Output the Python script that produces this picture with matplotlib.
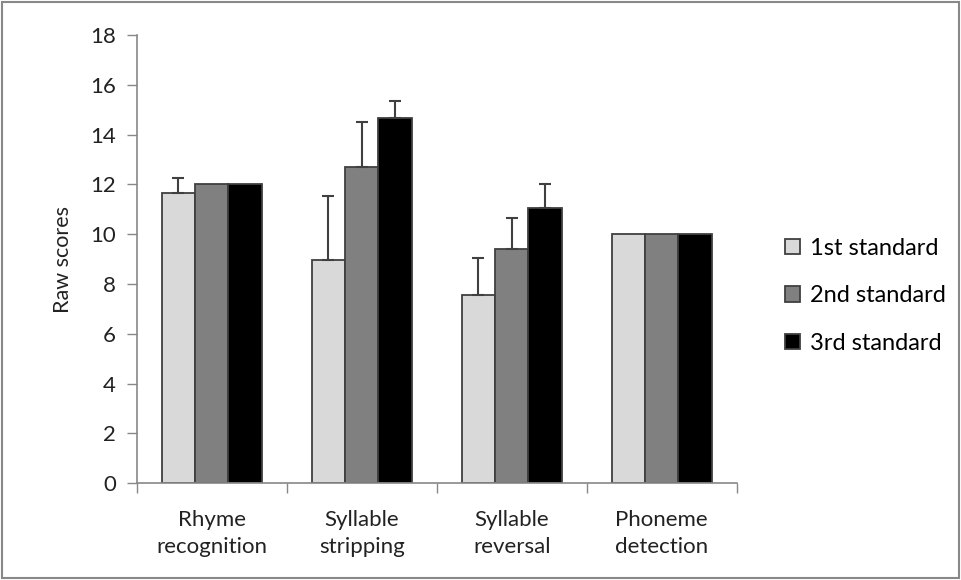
import numpy as np
import matplotlib
matplotlib.use("Agg")
import matplotlib.pyplot as plt
from matplotlib.patches import Rectangle

plt.rcParams['font.family'] = ['Lato', 'DejaVu Sans']

# datos
categorias = ["Rhyme\nrecognition", "Syllable\nstripping", "Syllable\nreversal", "Phoneme\ndetection"]
grupos = ["1st standard", "2nd standard", "3rd standard"]
std1 = [11.67, 8.96, 7.56, 10.0]
std2 = [12.0, 12.70, 9.41, 10.0]
std3 = [12.0, 14.67, 11.07, 10.0]
err1 = [0.58, 2.57, 1.49, 0.0]
err2 = [0.0, 1.81, 1.24, 0.0]
err3 = [0.0, 0.66, 0.96, 0.0]

colores = ["#D9D9D9", "#808080", "#000000"]
borde = "#404040"

fig = plt.figure(figsize=(9.61, 5.80), dpi=100)
ax = fig.add_axes([0.1422, 0.1667, 0.6244, 0.7730])

x = np.arange(len(categorias))
w = 0.2222
valores = [std1, std2, std3]
errores = [err1, err2, err3]
for i in range(3):
    pos = x + (i - 1) * w
    ax.bar(pos, valores[i], w, color=colores[i], edgecolor=borde, linewidth=1.3,
           label=grupos[i], zorder=2)
    e = np.array(errores[i])
    m = e > 0
    ax.errorbar(pos[m], np.array(valores[i])[m], yerr=[np.zeros(m.sum()), e[m]],
                fmt="none", ecolor=borde, elinewidth=1.5, capsize=4.5, capthick=1.5, zorder=3)

ax.set_xlim(-0.5, 3.5)
ax.set_ylim(0, 18)
ax.set_yticks(range(0, 19, 2))
ax.set_xticks(np.arange(-0.5, 4, 1))
ax.set_xticklabels([])
ax.set_xticks(x, minor=True)
ax.set_xticklabels(categorias, minor=True, fontsize=16, linespacing=1.45, color="#222222")
ax.tick_params(axis="x", which="minor", length=0, pad=19)
ax.tick_params(axis="x", which="major", length=7, width=1, color="#888888", direction="out")
ax.tick_params(axis="y", length=7, width=1, color="#888888", labelsize=16, labelcolor="#222222", pad=8)
for s in ["top", "right"]:
    ax.spines[s].set_visible(False)
for s in ["left", "bottom"]:
    ax.spines[s].set_color("#888888")
    ax.spines[s].set_linewidth(1.2)
ax.set_ylabel("Raw scores", fontsize=15.5, color="#222222", labelpad=12)

ax.legend(loc="center left", bbox_to_anchor=(1.045, 0.418), frameon=False, fontsize=17,
          handlelength=0.62, handleheight=0.62, handletextpad=0.45, labelspacing=1.13)

fig.patches.append(Rectangle((0.002, 0.003), 0.996, 0.994, transform=fig.transFigure,
                             fill=False, edgecolor="#888888", linewidth=1.5))

fig.savefig("out.png", dpi=100)
